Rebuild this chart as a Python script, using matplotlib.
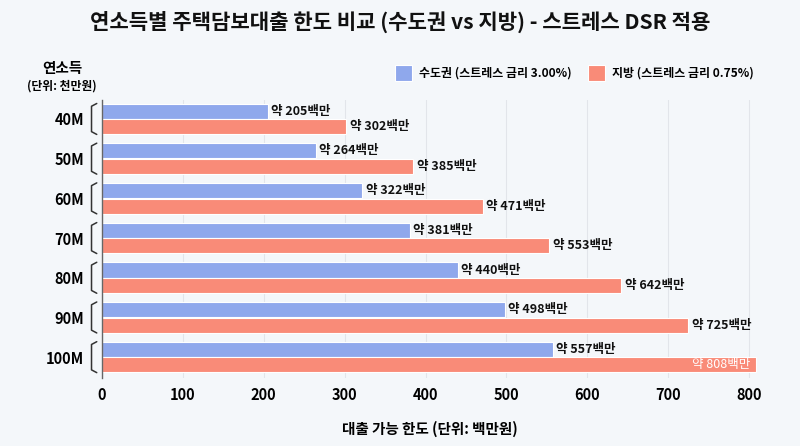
import numpy as np
import matplotlib
matplotlib.use('Agg')
import matplotlib.pyplot as plt
import matplotlib.transforms as mtransforms

plt.rcParams['font.family'] = ['Noto Sans CJK KR', 'DejaVu Sans']

# 데이터
incomes = ['40M', '50M', '60M', '70M', '80M', '90M', '100M']
capital = [205, 264, 322, 381, 440, 498, 557]   # 수도권
local = [302, 385, 471, 553, 642, 725, 808]     # 지방
xticks = [0, 100, 200, 300, 400, 500, 600, 700, 800]

c_blue = '#8fa8ec'
c_red = '#f98b78'
bg = '#f4f7fa'

fig = plt.figure(figsize=(8, 4.46), dpi=100, facecolor=bg)
ax = fig.add_axes([0.1275, 0.152, 0.819, 0.624], facecolor=bg)

y = np.arange(len(incomes))
h = 0.38
b1 = ax.barh(y - 0.195, capital, height=h, color=c_blue, edgecolor='white', linewidth=0.8,
             label='수도권 (스트레스 금리 3.00%)', zorder=3)
b2 = ax.barh(y + 0.195, local, height=h, color=c_red, edgecolor='white', linewidth=0.8,
             label='지방 (스트레스 금리 0.75%)', zorder=3)

ax.set_xlim(0, 810)
ax.set_ylim(len(incomes) - 0.47, -0.48)
ax.set_xticks(xticks)
ax.set_yticks(y)
ax.set_yticklabels(incomes, fontsize=10.5, fontweight='bold')
ax.tick_params(axis='x', length=0, pad=6, labelsize=10.5)
ax.tick_params(axis='y', length=0, pad=13)
for t in ax.get_xticklabels():
    t.set_fontweight('bold')

ax.grid(axis='x', color='#e2e5ea', linewidth=0.8, zorder=0)
for s in ['top', 'right', 'bottom']:
    ax.spines[s].set_visible(False)
ax.spines['left'].set_color('#666666')
ax.spines['left'].set_linewidth(1)
ax.spines['left'].set_zorder(4)

# 값 라벨
for v, yy in zip(capital, y - 0.195):
    ax.text(v + 4, yy, f'약 {v}백만', va='center', ha='left', fontsize=9, fontweight='bold', color='#111111')
for v, yy in zip(local, y + 0.195):
    if v > 790:
        ax.text(v - 6, yy, f'약 {v}백만', va='center', ha='right', fontsize=9, color='white', zorder=5)
    else:
        ax.text(v + 4, yy, f'약 {v}백만', va='center', ha='left', fontsize=9, fontweight='bold', color='#111111')

# 괄호
trans = mtransforms.blended_transform_factory(ax.transAxes, ax.transData)
for yy in y:
    top, bot = yy - 0.39, yy + 0.39
    ax.plot([-0.008, -0.016, -0.016, -0.008], [top, top + 0.07, bot - 0.07, bot],
            transform=trans, color='#333333', lw=1.1, clip_on=False,
            solid_capstyle='round', solid_joinstyle='round')

ax.set_xlabel('대출 가능 한도 (단위: 백만원)', fontsize=10.5, fontweight='bold', labelpad=13)

fig.text(0.5, 0.951, '연소득별 주택담보대출 한도 비교 (수도권 vs 지방) - 스트레스 DSR 적용',
         ha='center', va='center', fontsize=15.2, fontweight='bold', color='#111111')
fig.text(62 / 800, 1 - 68 / 446, '연소득', ha='center', va='center', fontsize=10.5, fontweight='bold')
fig.text(62 / 800, 1 - 86 / 446, '(단위: 천만원)', ha='center', va='center', fontsize=8.5, fontweight='bold')

fig.legend(handles=[b1, b2], loc='center right', bbox_to_anchor=(0.955, 1 - 73 / 446),
           ncol=2, frameon=False, handlelength=1.42, handleheight=1.8,
           columnspacing=1.4, handletextpad=0.55, prop={'weight': 'bold', 'size': 8.6})

fig.savefig('out.png', dpi=100, facecolor=bg)
